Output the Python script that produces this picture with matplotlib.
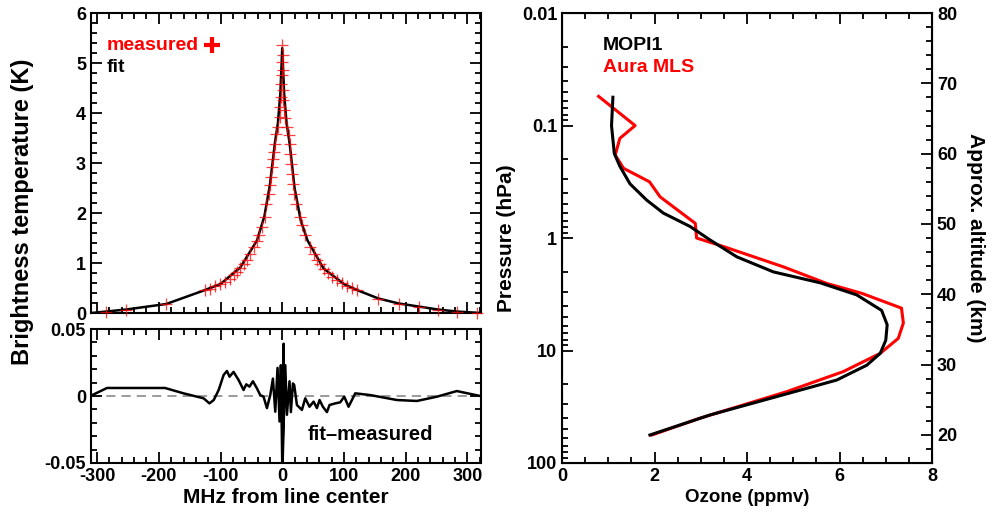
import numpy as np
import matplotlib
matplotlib.use("Agg")
import matplotlib.pyplot as plt
from matplotlib.ticker import MultipleLocator, LogLocator, FixedLocator, FixedFormatter, NullFormatter

plt.rcParams['font.family'] = ['Liberation Sans', 'DejaVu Sans']
plt.rcParams['font.weight'] = 'bold'
plt.rcParams['font.size'] = 13
plt.rcParams['axes.unicode_minus'] = False

# === Spectrum: measured channels (MHz, K) ===
meas_mhz = [-285, -253, -188, -125, -116.7, -108.6, -100.5, -92.4, -84.3, -78.9,
            -73.5, -68.1, -62.7, -57.2, -51.9, -46.5, -41.0, -38.4, -32.9, -28.7,
            -25.9, -22.2, -20.5, -18.3, -16.7, -15.7, -14.0, -11.3, -9.7, -7.6,
            -4, -3, -2, -1.5, -1, -0.5, 0, 0.5, 1, 1.5, 2, 3, 4,
            7.6, 10.2, 11.8, 13.0, 14.5, 15.7, 17.3, 18.3, 22.7, 29.0, 31.9,
            37.3, 45.4, 50.8, 56.2, 61.6, 67.0, 74.0, 80.5, 88.7, 96.8,
            104.9, 113.0, 121.0, 156, 188.6, 221, 251.7, 283, 315]
meas_k = [0.03, 0.07, 0.18, 0.46, 0.49, 0.54, 0.58, 0.63, 0.69, 0.76,
          0.83, 0.91, 0.99, 1.07, 1.19, 1.33, 1.45, 1.56, 1.73, 1.93,
          2.19, 2.39, 2.56, 2.73, 2.93, 3.09, 3.23, 3.39, 3.59, 3.73,
          3.93, 4.13, 4.33, 4.59, 4.76, 5.03, 5.36, 5.16, 4.86, 4.46, 4.26, 4.06, 3.91,
          3.73, 3.56, 3.39, 3.19, 2.99, 2.79, 2.59, 2.39, 2.19, 1.93, 1.76,
          1.56, 1.33, 1.19, 1.07, 0.98, 0.89, 0.81, 0.73, 0.66, 0.61,
          0.55, 0.51, 0.46, 0.29, 0.19, 0.13, 0.07, 0.03, 0.0]

# === Spectrum: fit ===
fit_mhz = [-310, -285, -253, -188, -125, -100, -68, -41, -29, -20, -12, -7, -3, 0,
           3, 7, 12, 20, 30, 41, 67, 100, 121, 156, 189, 221, 252, 283, 322]
fit_k = [0.0, 0.03, 0.07, 0.18, 0.46, 0.58, 0.91, 1.45, 1.93, 2.56, 3.39, 3.8, 4.4, 5.3,
         4.4, 3.8, 3.39, 2.5, 1.85, 1.45, 0.89, 0.58, 0.46, 0.29, 0.19, 0.13, 0.07, 0.03, 0.0]

# === Residual fit-measured ===
res_mhz = [-311, -284, -190, -160, -127.5, -118, -111, -103, -95, -89.6, -85.4, -78.9,
           -70.8, -62.7, -58.3, -53, -47.5, -41, -35.7, -30.3, -24.8, -19.4, -15.1,
           -11.3, -7.6, -4.4, -2.2, 0, 2.2, 0.6, 4.9, 7.6, 11.8, 14, 17.3, 19.4, 23.8,
           31.9, 37.3, 44.2, 50.8, 56.2, 60.5, 65.9, 72.4, 76.7, 86, 94, 100.5, 107.5,
           118.3, 142.6, 185.9, 218.3, 250.7, 283, 321]
res_k = [0.0, 0.006, 0.006, 0.002, -0.0017, -0.0055, -0.003, 0.0045, 0.0157, 0.0187,
         0.0144, 0.018, 0.012, 0.0045, 0.0087, 0.007, 0.011, 0.0057, 0.0007, -0.0005,
         -0.009, 0.0007, 0.013, -0.0117, 0.021, -0.019, 0.023, -0.05, 0.039, -0.05,
         0.023, -0.014, 0.011, -0.012, 0.0094, 0.0082, -0.0067, -0.0104, -0.0017,
         -0.008, -0.0042, -0.009, -0.003, -0.008, -0.012, -0.0067, -0.0055, -0.0047,
         -0.0005, -0.008, 0.002, 0.0007, -0.003, -0.0037, -0.0005, 0.0037, 0.0]

# === Ozone profiles (ppmv vs hPa) ===
mopi_o3 = [1.10, 1.07, 1.13, 1.25, 1.47, 1.83, 2.19, 2.77, 3.20, 3.78, 4.57, 5.58,
           6.37, 6.91, 7.03, 7.00, 6.88, 6.59, 5.94, 4.64, 3.20, 1.90]
mopi_p = [0.056, 0.10, 0.177, 0.23, 0.33, 0.46, 0.60, 0.79, 1.04, 1.47, 2.0, 2.5,
          3.2, 4.4, 5.9, 8.1, 10.6, 13.5, 18.3, 25.7, 37.4, 56.4]
mls_o3 = [0.79, 1.58, 1.25, 1.20, 1.15, 1.33, 1.89, 2.12, 2.88, 2.91, 3.49, 4.78,
          5.72, 6.48, 7.34, 7.38, 7.27, 6.88, 6.08, 4.86, 2.98, 1.94]
mls_p = [0.055, 0.10, 0.13, 0.154, 0.183, 0.24, 0.316, 0.43, 0.74, 1.0, 1.19, 1.80,
         2.53, 3.1, 4.2, 5.7, 7.8, 10.6, 15.4, 23.2, 40, 56.4]

scale_height = 80 / np.log(1e5)  # km, so 0.01 hPa -> 80 km
LBL = 15


def style(ax, right=True):
    ax.tick_params(which='both', direction='in', top=True, right=right, width=1.3)
    ax.tick_params(which='major', length=8, labelsize=13)
    ax.tick_params(which='minor', length=4)
    for s in ax.spines.values():
        s.set_linewidth(1.5)


fig = plt.figure(figsize=(9.93, 5.25), dpi=100)

# === Top-left: spectrum ===
ax1 = fig.add_axes([0.0916, 0.4038, 0.3927, 0.5714])
ax1.plot(fit_mhz, fit_k, color='black', lw=1.8, zorder=2)
ax1.plot(meas_mhz, meas_k, ls='none', marker='+', ms=8, mew=0.9,
         color='red', alpha=0.75, zorder=3, clip_on=False)
ax1.set_xlim(-310, 322)
ax1.set_ylim(0, 6)
ax1.xaxis.set_major_locator(MultipleLocator(100))
ax1.xaxis.set_minor_locator(MultipleLocator(20))
ax1.yaxis.set_major_locator(MultipleLocator(1))
ax1.yaxis.set_minor_locator(MultipleLocator(0.2))
ax1.set_xticklabels([])
ax1.set_ylabel('Brightness temperature (K)', fontsize=17, fontweight='bold')
ax1.yaxis.set_label_coords(-0.145, 0.338)
style(ax1)
ax1.text(0.041, 0.893, 'measured', color='red', transform=ax1.transAxes,
         fontsize=14, fontweight='bold', va='center')
ax1.plot([0.31], [0.893], transform=ax1.transAxes, marker='+', ms=12, mew=3,
         color='red')
ax1.text(0.041, 0.82, 'fit', color='black', transform=ax1.transAxes,
         fontsize=14, fontweight='bold', va='center')

# === Bottom-left: residual ===
ax2 = fig.add_axes([0.0916, 0.1181, 0.3927, 0.2552])
ax2.axhline(0, color='gray', lw=1.1, ls=(0, (6, 4)), zorder=1)
ax2.plot(res_mhz, res_k, color='black', lw=1.8, zorder=2)
ax2.set_xlim(-310, 322)
ax2.set_ylim(-0.05, 0.05)
ax2.xaxis.set_major_locator(MultipleLocator(100))
ax2.xaxis.set_minor_locator(MultipleLocator(20))
ax2.yaxis.set_major_locator(FixedLocator([-0.05, 0, 0.05]))
ax2.yaxis.set_major_formatter(FixedFormatter(['-0.05', '0', '0.05']))
ax2.yaxis.set_minor_locator(MultipleLocator(0.01))
ax2.set_xlabel('MHz from line center', fontsize=LBL, fontweight='bold', labelpad=2)
style(ax2)
ax2.text(0.556, 0.21, 'fit\u2013measured', transform=ax2.transAxes,
         fontsize=14.5, fontweight='bold', va='center')

# === Right: ozone profile ===
ax3 = fig.add_axes([0.566, 0.1181, 0.3726, 0.857])
ax3.plot(mls_o3, mls_p, color='red', lw=2.2)
ax3.plot(mopi_o3, mopi_p, color='black', lw=2.2)
ax3.set_yscale('log')
ax3.set_ylim(100, 0.01)
ax3.set_xlim(0, 8)
ax3.xaxis.set_major_locator(MultipleLocator(2))
ax3.xaxis.set_minor_locator(MultipleLocator(0.5))
ax3.yaxis.set_major_locator(FixedLocator([0.01, 0.1, 1, 10, 100]))
ax3.yaxis.set_major_formatter(FixedFormatter(['0.01', '0.1', '1', '10', '100']))
ax3.yaxis.set_minor_locator(LogLocator(base=10, subs=np.arange(2, 10)))
ax3.yaxis.set_minor_formatter(NullFormatter())
ax3.set_xlabel('Ozone (ppmv)', fontsize=13.5, fontweight='bold', labelpad=3)
ax3.set_ylabel('Pressure (hPa)', fontsize=LBL, fontweight='bold', labelpad=4)
style(ax3, right=False)
ax3.text(0.11, 0.929, 'MOPI1', color='black', transform=ax3.transAxes,
         fontsize=14, fontweight='bold', va='center')
ax3.text(0.11, 0.878, 'Aura MLS', color='red', transform=ax3.transAxes,
         fontsize=14, fontweight='bold', va='center')

ax4 = ax3.twinx()
ax4.set_ylim(scale_height * np.log(1000 / 100), scale_height * np.log(1000 / 0.01))
ax4.yaxis.set_major_locator(MultipleLocator(10))
ax4.yaxis.set_minor_locator(MultipleLocator(2))
ax4.set_ylabel('Approx. altitude (km)', rotation=270, labelpad=20,
               fontsize=LBL, fontweight='bold')
ax4.tick_params(which='both', direction='in', width=1.3)
ax4.tick_params(which='major', length=8, labelsize=13)
ax4.tick_params(which='minor', length=4)

fig.savefig('out.png', dpi=100)
